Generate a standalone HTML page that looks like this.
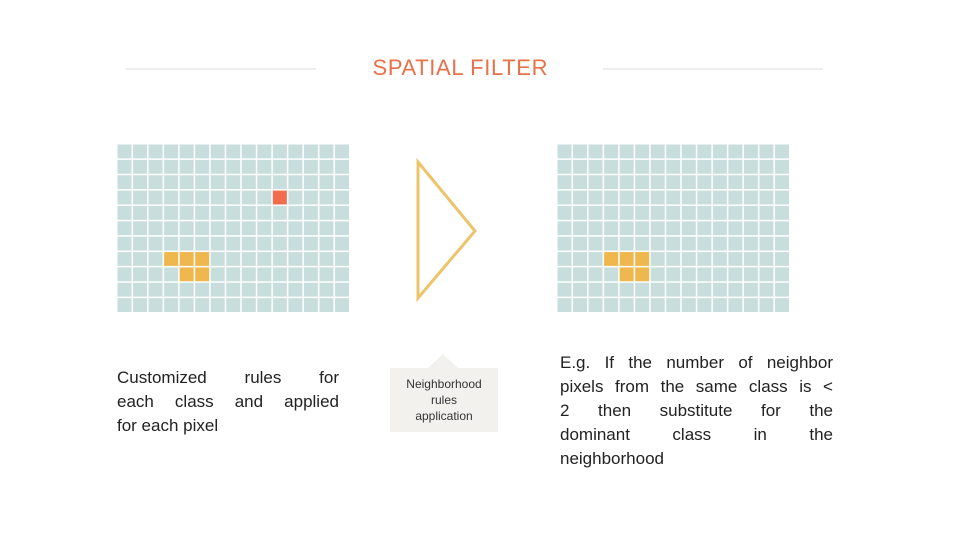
<!DOCTYPE html>
<html><head><style>
body{margin:0;width:960px;height:540px;background:#fff;position:relative;overflow:hidden;font-family:"Liberation Sans",sans-serif}
.t{position:absolute;font-size:17px;color:#222;line-height:24px}
.t div{text-align:justify;text-align-last:justify;white-space:nowrap;height:24px}
.t div.l{text-align-last:left}
</style></head><body>
<svg width="960" height="540" style="position:absolute;left:0;top:0">
<line x1="125" y1="69" x2="316" y2="69" stroke="#eeeeec" stroke-width="2"/>
<line x1="603" y1="69" x2="823" y2="69" stroke="#eeeeec" stroke-width="2"/>
<text x="460" y="75" text-anchor="middle" font-family="Liberation Sans" font-size="22" fill="#e8714a" textLength="175">SPATIAL FILTER</text>
<g id="grids"></g>
<polygon points="418,162 475,231 418,298" fill="none" stroke="#ecc46a" stroke-width="3"/>
<polygon points="390,368 428,368 443,354 458,368 498,368 498,432 390,432" fill="#f2f1ee"/>
<text font-family="Liberation Sans" font-size="12" fill="#333" text-anchor="middle"><tspan x="444" y="388">Neighborhood</tspan><tspan x="444" y="404">rules</tspan><tspan x="444" y="420">application</tspan></text>
</svg>
<div class="t" style="left:117px;top:366px;width:222px"><div>Customized rules for</div><div>each class and applied</div><div class="l">for each pixel</div></div>
<div class="t" style="left:560px;top:351px;width:273px"><div>E.g. If the number of neighbor</div><div>pixels from the same class is &lt;</div><div>2 then substitute for the</div><div>dominant class in the</div><div class="l">neighborhood</div></div>
<script>
var g=document.getElementById('grids'),s='';
function grid(x0,red){var w=233/15,h=169/11;
for(var r=0;r<11;r++)for(var c=0;c<15;c++){var f='#c8dedc';
if(red&&r==3&&c==10)f='#f06e4e';
if((r==7&&c>=3&&c<=5)||(r==8&&c>=4&&c<=5))f='#eeb84e';
s+='<rect x="'+(x0+c*w+0.5)+'" y="'+(144+r*h+0.5)+'" width="'+(w-1.5)+'" height="'+(h-1.5)+'" fill="'+f+'"/>';}}
grid(117,true);grid(557,false);
g.innerHTML=s;
</script>
</body></html>
